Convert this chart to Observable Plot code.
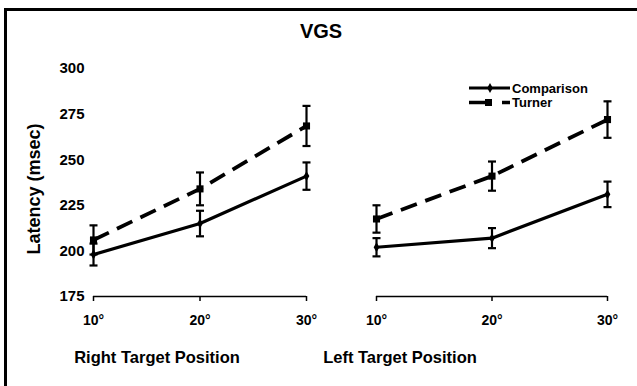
<!DOCTYPE html>
<html>
<head>
<meta charset="utf-8">
<script src="https://cdn.jsdelivr.net/npm/d3@7"></script>
<script src="https://cdn.jsdelivr.net/npm/@observablehq/plot@0.6"></script>
<style>
  html, body { margin: 0; padding: 0; background: #fff; overflow: hidden; }
  #wrap { position: relative; width: 637px; height: 386px; overflow: hidden; background: #fff;
          font-family: "Liberation Sans", Arial, Helvetica, sans-serif; }
  .layer { position: absolute; left: 0; top: 0; }
  #overlay text { font-family: "Liberation Sans", Arial, Helvetica, sans-serif; font-weight: bold; fill: #000; }
</style>
</head>
<body>
<div id="wrap">
  <div id="p1" class="layer"></div>
  <div id="p2" class="layer"></div>
  <svg id="overlay" class="layer" width="637" height="386">
    <rect x="4" y="8" width="633" height="3" fill="#000"></rect>
    <rect x="4" y="8" width="3" height="378" fill="#000"></rect>
    <text x="321" y="38" text-anchor="middle" font-size="20">VGS</text>
    <text transform="translate(40,189) rotate(-90)" text-anchor="middle" font-size="18">Latency (msec)</text>
    <text x="157" y="363" text-anchor="middle" font-size="16.5">Right Target Position</text>
    <text x="400" y="363" text-anchor="middle" font-size="16.5">Left Target Position</text>
    <g id="legend"></g>
  </svg>
</div>
<script>
// ---- data ----
const positions = [10, 20, 30];
const yTicks = [175, 200, 225, 250, 275, 300];
const seriesNames = ["Comparison", "Turner"];

const rightComparison = [198, 215, 241];
const rightComparisonErr = [6, 7, 7.5];
const rightTurner = [206, 234, 268.5];
const rightTurnerErr = [8, 9, 11];

const leftComparison = [202, 207, 231];
const leftComparisonErr = [5, 5.5, 7];
const leftTurner = [217.5, 241, 272];
const leftTurnerErr = [7.5, 8, 10];

// ---- helpers ----
const capSymbol = {
  draw(ctx, size) {
    const w = Math.sqrt(size / Math.PI);
    ctx.moveTo(-w, 0);
    ctx.lineTo(w, 0);
  }
};

function rows(vals, errs) {
  return positions.map((p, i) => ({x: p, v: vals[i], lo: vals[i] - errs[i], hi: vals[i] + errs[i]}));
}

function seriesMarks(data, dashed, symbol, r) {
  return [
    Plot.line(data, {x: "x", y: "v", stroke: "#000", strokeWidth: dashed ? 3.8 : 3.2,
      strokeDasharray: dashed ? "17,9" : null, strokeLinecap: "butt"}),
    Plot.ruleX(data, {x: "x", y1: "lo", y2: "hi", stroke: "#000", strokeWidth: 2.2}),
    Plot.dot(data, {x: "x", y: "lo", symbol: capSymbol, r: 4, stroke: "#000", strokeWidth: 2.2, fill: "none"}),
    Plot.dot(data, {x: "x", y: "hi", symbol: capSymbol, r: 4, stroke: "#000", strokeWidth: 2.2, fill: "none"}),
    Plot.dot(data, {x: "x", y: "v", symbol: symbol, r: r, fill: "#000", stroke: null})
  ];
}

function panel(comp, compErr, turn, turnErr, marginLeft, marginRight, showY) {
  return Plot.plot({
    width: 637,
    height: 386,
    marginTop: 68,
    marginBottom: 90,
    marginLeft,
    marginRight,
    style: {background: "transparent", fontFamily: "'Liberation Sans', Arial, sans-serif", fontWeight: "bold", color: "#000", overflow: "visible"},
    x: {type: "linear", domain: [10, 30]},
    y: {domain: [175, 300], axis: showY ? undefined : null},
    marks: [
      showY ? Plot.axisY({ticks: yTicks, tickSize: 0, tickPadding: 9, fontSize: 15, fontWeight: "bold", label: null}) : null,
      Plot.axisX({ticks: positions, tickFormat: d => d + "°", tickSize: 5, tickPadding: 14, fontSize: 14, fontWeight: "bold", strokeWidth: 1.5, label: null}),
      Plot.ruleY([175], {stroke: "#000", strokeWidth: 1.5}),
      ...seriesMarks(rows(turn, turnErr), true, "square", 4),
      ...seriesMarks(rows(comp, compErr), false, "diamond", 3)
    ]
  });
}

document.getElementById("p1").append(
  panel(rightComparison, rightComparisonErr, rightTurner, rightTurnerErr, 93, 637 - 306, true));
document.getElementById("p2").append(
  panel(leftComparison, leftComparisonErr, leftTurner, leftTurnerErr, 376, 637 - 607, false));

// ---- legend ----
const lg = d3.select("#legend");
lg.append("line").attr("x1", 469).attr("x2", 510).attr("y1", 88).attr("y2", 88).attr("stroke", "#000").attr("stroke-width", 3);
lg.append("path").attr("d", d3.symbol(d3.symbolDiamond, 28)()).attr("transform", "translate(490,88)").attr("fill", "#000");
lg.append("text").attr("x", 512).attr("y", 92.5).attr("font-size", 13).text(seriesNames[0]);
lg.append("line").attr("x1", 469).attr("x2", 486).attr("y1", 102.5).attr("y2", 102.5).attr("stroke", "#000").attr("stroke-width", 3.5);
lg.append("rect").attr("x", 485).attr("y", 99).attr("width", 7).attr("height", 7).attr("fill", "#000");
lg.append("line").attr("x1", 502).attr("x2", 510).attr("y1", 102.5).attr("y2", 102.5).attr("stroke", "#000").attr("stroke-width", 3.5);
lg.append("text").attr("x", 512).attr("y", 107).attr("font-size", 13).text(seriesNames[1]);
</script>
</body>
</html>
